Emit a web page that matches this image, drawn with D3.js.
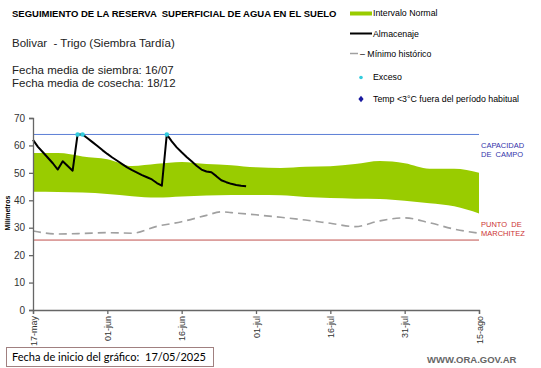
<!DOCTYPE html>
<meta charset="utf-8">
<style>
body { margin: 0; background: #fff; }
svg text { font-family: 'Liberation Sans', Arial, sans-serif; white-space: pre; }
</style>
<body>
<svg id="chart" width="541" height="368"></svg>
<script src="https://d3js.org/d3.v7.min.js"></script>
<script>
// dias desde el 17/05/2025
var bandDays  = [0, 5, 10, 15, 20, 25, 30, 35, 40, 45, 50, 55, 60, 65, 70, 75, 80, 85, 90];
var bandUpper = [57.2, 57.2, 56, 55, 52.5, 53.3, 54, 53.2, 52.8, 52, 51.8, 52.2, 52.4, 53.2, 54.3, 53.5, 51.5, 51.5, 50];
var bandLower = [43.1, 43, 42.8, 42.3, 41.5, 41, 41.4, 41.7, 41.9, 41.9, 41.8, 41.2, 40.8, 40.6, 40.5, 39.8, 38.9, 37.8, 35.2];

var minDays = [0, 5, 10, 15, 20, 25, 30, 35, 38, 40, 45, 50, 55, 60, 65, 70, 75, 80, 85, 90];
var minVals = [28.8, 27.7, 27.9, 28.2, 28, 30.5, 32.2, 34.5, 35.8, 35.5, 34.7, 33.8, 32.8, 31.6, 30.4, 32.5, 33.6, 31.8, 29.5, 28];

// almacenaje diario desde el dia 0
var almacenaje = [62, 59.5, 57.5, 55.5, 53.5, 51.2, 54.2, 52.5, 50.8, 64,
  64, 62.6, 61.2, 59.8, 58.3, 56.9, 55.6, 54.4, 53.2, 52,
  51, 50.1, 49.2, 48.4, 47.6, 46.3, 45.3, 64, 61.5, 59.3,
  57.5, 55.8, 54.2, 52.6, 51.2, 50.5, 50.2, 48.8, 47.3, 46.6,
  46, 45.6, 45.3, 45.1];
var excesoDays = [9, 10, 27];

var capacidad = 64;
var marchitez = 25.5;

var tickDays   = [0, 15, 30, 45, 60, 75, 90];
var tickLabels = ["17-may", "01-jun", "16-jun", "01-jul", "16-jul", "31-jul", "15-ago"];
var yTicks = [0, 10, 20, 30, 40, 50, 60, 70];

var svg = d3.select("#chart");

var x = d3.scaleLinear().domain([0, 90]).range([33, 479]);
var y = d3.scaleLinear().domain([0, 70]).range([310, 118]);

// banda intervalo normal
var area = d3.area()
    .x(function(d, i) { return x(bandDays[i]); })
    .y0(function(d, i) { return y(bandLower[i]); })
    .y1(function(d) { return y(d); })
    .curve(d3.curveMonotoneX);
svg.append("path")
    .datum(bandUpper)
    .attr("d", area)
    .attr("fill", "#99cc00");

// capacidad de campo y punto de marchitez
svg.append("line")
    .attr("x1", x(0)).attr("x2", x(90))
    .attr("y1", y(capacidad)).attr("y2", y(capacidad))
    .attr("stroke", "#5b7fd6").attr("stroke-width", 1);
svg.append("line")
    .attr("x1", x(0)).attr("x2", x(90))
    .attr("y1", y(marchitez)).attr("y2", y(marchitez))
    .attr("stroke", "#c0504d").attr("stroke-width", 1);

// minimo historico
var minLine = d3.line()
    .x(function(d, i) { return x(minDays[i]); })
    .y(function(d) { return y(d); })
    .curve(d3.curveMonotoneX);
svg.append("path")
    .datum(minVals)
    .attr("d", minLine)
    .attr("fill", "none")
    .attr("stroke", "#a0a0a0")
    .attr("stroke-width", 1.6)
    .attr("stroke-dasharray", "8,5");

// almacenaje
var line = d3.line()
    .x(function(d, i) { return x(i); })
    .y(function(d) { return y(d); });
svg.append("path")
    .datum(almacenaje)
    .attr("d", line)
    .attr("fill", "none")
    .attr("stroke", "#000")
    .attr("stroke-width", 2)
    .attr("stroke-linejoin", "round");

svg.selectAll(".exceso")
    .data(excesoDays)
  .enter().append("circle")
    .attr("cx", function(d) { return x(d); })
    .attr("cy", function(d) { return y(almacenaje[d]); })
    .attr("r", 2.3)
    .attr("fill", "#33ccdd");

// ejes
var yAxis = d3.axisLeft(y).tickValues(yTicks).tickSize(4).tickPadding(4);
var gy = svg.append("g")
    .attr("transform", "translate(" + x(0) + ",0)")
    .call(yAxis);
gy.selectAll("text").style("font-size", "10px").attr("fill", "#333");

var xAxis = d3.axisBottom(x).tickValues(tickDays).tickSize(4)
    .tickFormat(function(d, i) { return tickLabels[i]; });
var gx = svg.append("g")
    .attr("transform", "translate(0," + y(0) + ")")
    .call(xAxis);
gx.selectAll("text")
    .style("font-size", "9px")
    .attr("fill", "#333")
    .attr("transform", "rotate(-90)")
    .attr("text-anchor", "end")
    .attr("x", -6).attr("y", 0).attr("dy", "0.35em");

svg.selectAll(".domain, .tick line").attr("stroke", "#666").attr("stroke-width", 1.3);

svg.append("text")
    .attr("transform", "translate(10,213) rotate(-90)")
    .attr("text-anchor", "middle")
    .style("font-size", "7px").style("font-weight", "bold")
    .text("Milímetros");

// textos
svg.append("text").attr("x", 12).attr("y", 17)
    .style("font-size", "9.5px").style("font-weight", "bold")
    .text("SEGUIMIENTO DE LA RESERVA  SUPERFICIAL DE AGUA EN EL SUELO");
svg.append("text").attr("x", 12).attr("y", 47)
    .style("font-size", "11.5px").attr("fill", "#222")
    .text("Bolivar  - Trigo (Siembra Tardía)");
svg.append("text").attr("x", 12).attr("y", 74)
    .style("font-size", "11.5px").attr("fill", "#222")
    .text("Fecha media de siembra: 16/07");
svg.append("text").attr("x", 12).attr("y", 87)
    .style("font-size", "11.5px").attr("fill", "#222")
    .text("Fecha media de cosecha: 18/12");

svg.append("text").attr("x", 481).attr("y", 148)
    .style("font-size", "7.5px").attr("fill", "#3333aa")
    .text("CAPACIDAD");
svg.append("text").attr("x", 481).attr("y", 157)
    .style("font-size", "7.5px").attr("fill", "#3333aa")
    .text("DE  CAMPO");
svg.append("text").attr("x", 481).attr("y", 227)
    .style("font-size", "7.5px").attr("fill", "#cc3333")
    .text("PUNTO  DE");
svg.append("text").attr("x", 481).attr("y", 236)
    .style("font-size", "7.5px").attr("fill", "#cc3333")
    .text("MARCHITEZ");

// leyenda
var lx = 350, tx = 373;
svg.append("rect").attr("x", lx).attr("y", 11.5).attr("width", 22).attr("height", 4).attr("fill", "#99cc00");
svg.append("text").attr("x", tx).attr("y", 16).style("font-size", "8.8px").text("Intervalo Normal");
svg.append("line").attr("x1", lx).attr("x2", lx + 22).attr("y1", 33.5).attr("y2", 33.5).attr("stroke", "#000").attr("stroke-width", 2);
svg.append("text").attr("x", tx).attr("y", 37).style("font-size", "8.8px").text("Almacenaje");
svg.append("line").attr("x1", lx).attr("x2", lx + 8).attr("y1", 53.5).attr("y2", 53.5).attr("stroke", "#a0a0a0").attr("stroke-width", 1.5);
svg.append("text").attr("x", 360).attr("y", 57).style("font-size", "8.8px").text("– Mínimo histórico");
svg.append("circle").attr("cx", 361).attr("cy", 77.5).attr("r", 1.8).attr("fill", "#33ccdd");
svg.append("text").attr("x", tx).attr("y", 80).style("font-size", "8.8px").text("Exceso");
svg.append("path").attr("d", d3.symbol().type(d3.symbolDiamond).size(12)()).attr("transform", "translate(361,99) scale(1.4,1)").attr("fill", "#1a1aa0");
svg.append("text").attr("x", tx).attr("y", 102).style("font-size", "8.8px").text("Temp <3°C fuera del período habitual");

// pie
svg.append("rect").attr("x", 6.5).attr("y", 347.5).attr("width", 207).attr("height", 19)
    .attr("fill", "#fff").attr("stroke", "#a08080").attr("stroke-width", 1);
svg.append("text").attr("x", 12).attr("y", 361).style("font-size", "11px").style("font-family", "Lato")
    .text("Fecha de inicio del gráfico:");
svg.append("text").attr("x", 145).attr("y", 361).style("font-size", "11px").style("font-family", "Lato")
    .text("17/05/2025");
svg.append("text").attr("x", 427).attr("y", 363).style("font-size", "9.5px").style("font-weight", "bold").attr("fill", "#666")
    .text("WWW.ORA.GOV.AR");
</script>
</body>
